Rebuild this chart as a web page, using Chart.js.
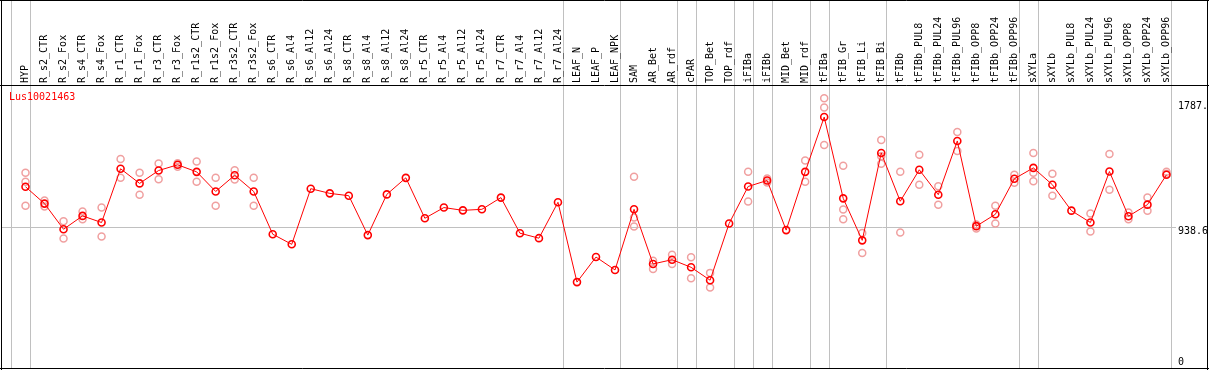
<!DOCTYPE html>
<html><head><meta charset="utf-8">
<script src="https://cdn.jsdelivr.net/npm/chart.js@4.4.1/dist/chart.umd.min.js"></script>
<style>html,body{margin:0;padding:0;background:#fff;overflow:hidden;}</style>
</head><body>
<canvas id="c" width="1209" height="370"></canvas>
<script>
const categories = ['HYP','R_s2_CTR','R_s2_Fox','R_s4_CTR','R_s4_Fox','R_r1_CTR','R_r1_Fox','R_r3_CTR','R_r3_Fox','R_r1s2_CTR','R_r1s2_Fox','R_r3s2_CTR','R_r3s2_Fox','R_s6_CTR','R_s6_Al4','R_s6_Al12','R_s6_Al24','R_s8_CTR','R_s8_Al4','R_s8_Al12','R_s8_Al24','R_r5_CTR','R_r5_Al4','R_r5_Al12','R_r5_Al24','R_r7_CTR','R_r7_Al4','R_r7_Al12','R_r7_Al24','LEAF_N','LEAF_P','LEAF_NPK','SAM','AR_Bet','AR_rdf','cPAR','TOP_Bet','TOP_rdf','iFIBa','iFIBb','MID_Bet','MID_rdf','tFIBa','tFIB_Gr','tFIB_Li','tFIB_Bi','tFIBb','tFIBb_PUL8','tFIBb_PUL24','tFIBb_PUL96','tFIBb_OPP8','tFIBb_OPP24','tFIBb_OPP96','sXYLa','sXYLb','sXYLb_PUL8','sXYLb_PUL24','sXYLb_PUL96','sXYLb_OPP8','sXYLb_OPP24','sXYLb_OPP96'];

const meanValues = [1213,1098,923,1014,969,1336,1236,1324,1363,1315,1181,1292,1181,889,820,1200,1168,1152,883,1161,1274,998,1071,1052,1059,1139,896,862,1107,562,733,645,1059,686,715,663,575,962,1215,1256,917,1315,1689,1134,847,1444,1114,1329,1159,1526,944,1025,1268,1342,1227,1050,969,1317,1012,1091,1295];

const rep1 = [1308,1120,978,1044,1071,1403,1308,1372,1373,1385,1274,1326,1274,
  null,null,null,null,null,null,null,null,null,null,null,null,null,null,null,null,null,null,null,
  1281,708,749,731,625,null,1315,1270,null,1392,1818,1356,898,1532,1315,1431,1217,1587,955,1084,1295,1444,1302,null,1030,1437,1037,1139,1302];

const rep2 = [1247,1078,860,991,874,1274,1159,1265,1350,1247,1084,1263,1084,
  null,null,null,null,null,null,null,null,null,null,null,null,null,null,null,null,null,null,null,
  1003,652,686,589,525,null,1112,1243,null,1247,1754,1057,760,1370,901,1227,1091,1458,928,962,1241,1308,1152,null,908,1193,991,1050,1315];

const rep3 = [1084,null,null,null,null,null,null,null,null,null,null,null,null,
  null,null,null,null,null,null,null,null,null,null,null,null,null,null,null,null,null,null,null,
  942,null,null,null,null,null,null,null,null,null,1499,991,null,1421,null,null,null,null,null,null,null,1251,null,null,null,null,null,null,null];

const yTickValues = [0, 938.6, 1787];
const yTickLabels = ['0', '938.6', '1787.'];
const yMax = 1908;
const separatorsAfter = [-1, 0, 28, 31, 34, 35, 37, 38, 39, 41, 42, 45, 52, 53, 60];
const geneName = 'Lus10021463';

const MONO = '"DejaVu Sans Mono", monospace';

const decorPlugin = {
  id: 'decor',
  beforeDraw(chart) {
    const {ctx, chartArea, scales: {x, y}} = chart;
    ctx.save();
    ctx.strokeStyle = '#c0c0c0';
    ctx.lineWidth = 1;
    ctx.beginPath();
    const yy = Math.round(y.getPixelForValue(yTickValues[1])) + 0.5;
    ctx.moveTo(2, yy); ctx.lineTo(chartArea.right, yy);
    separatorsAfter.forEach(i => {
      const xx = Math.round(x.getPixelForValue(i + 0.24)) + 0.5;
      ctx.moveTo(xx, 0); ctx.lineTo(xx, 368);
    });
    ctx.stroke();
    ctx.restore();
  },
  afterDraw(chart) {
    const {ctx, scales: {y}} = chart;
    ctx.save();
    ctx.strokeStyle = '#000';
    ctx.lineWidth = 1;
    ctx.beginPath();
    ctx.moveTo(1.5, 0); ctx.lineTo(1.5, 370);
    ctx.moveTo(1207.5, 0); ctx.lineTo(1207.5, 370);
    ctx.moveTo(0, 0.5); ctx.lineTo(1209, 0.5);
    ctx.moveTo(0, 85.5); ctx.lineTo(1209, 85.5);
    ctx.moveTo(0, 368.5); ctx.lineTo(1209, 368.5);
    ctx.stroke();
    ctx.font = '10px ' + MONO;
    ctx.fillStyle = '#000';
    ctx.textAlign = 'left';
    ctx.textBaseline = 'middle';
    yTickValues.forEach((v, i) => {
      const py = Math.min(y.getPixelForValue(v) + 4, 362);
      ctx.fillText(yTickLabels[i], 1178, py);
    });
    ctx.fillStyle = '#ff0000';
    ctx.fillText(geneName, 9, 97);
    ctx.restore();
  }
};

const repStyle = {
  type: 'line', showLine: false,
  pointRadius: 3.5, pointBorderWidth: 1.5,
  pointBorderColor: '#f0a0a0', pointBackgroundColor: 'rgba(0,0,0,0)',
  borderColor: '#f0a0a0'
};

new Chart(document.getElementById('c'), {
  type: 'line',
  data: {
    labels: categories,
    datasets: [
      { label: 'mean', data: meanValues, borderColor: '#ff0000', borderWidth: 1,
        pointRadius: 3.5, pointBorderWidth: 1.6, pointBorderColor: '#ff0000',
        pointBackgroundColor: 'rgba(0,0,0,0)', tension: 0, spanGaps: true },
      Object.assign({ label: 'rep1', data: rep1 }, repStyle),
      Object.assign({ label: 'rep2', data: rep2 }, repStyle),
      Object.assign({ label: 'rep3', data: rep3 }, repStyle)
    ]
  },
  options: {
    responsive: false,
    animation: false,
    devicePixelRatio: 1,
    layout: { padding: { left: 16, right: 0, top: 0, bottom: 4 } },
    plugins: { legend: { display: false }, tooltip: { enabled: false } },
    scales: {
      x: {
        type: 'category', position: 'top', offset: true,
        grid: { display: false, drawTicks: false }, border: { display: false },
        ticks: { autoSkip: false, maxRotation: 90, minRotation: 90, padding: 2, labelOffset: 12,
                 color: '#000', font: { family: MONO, size: 10 } },
        afterFit: s => { s.height = 85; }
      },
      y: {
        position: 'right', min: 0, max: yMax,
        grid: { display: false }, border: { display: false },
        ticks: { display: false },
        afterBuildTicks: s => { s.ticks = yTickValues.map(v => ({ value: v })); },
        afterFit: s => { s.width = 33; }
      }
    }
  },
  plugins: [decorPlugin]
});
</script>
</body></html>
